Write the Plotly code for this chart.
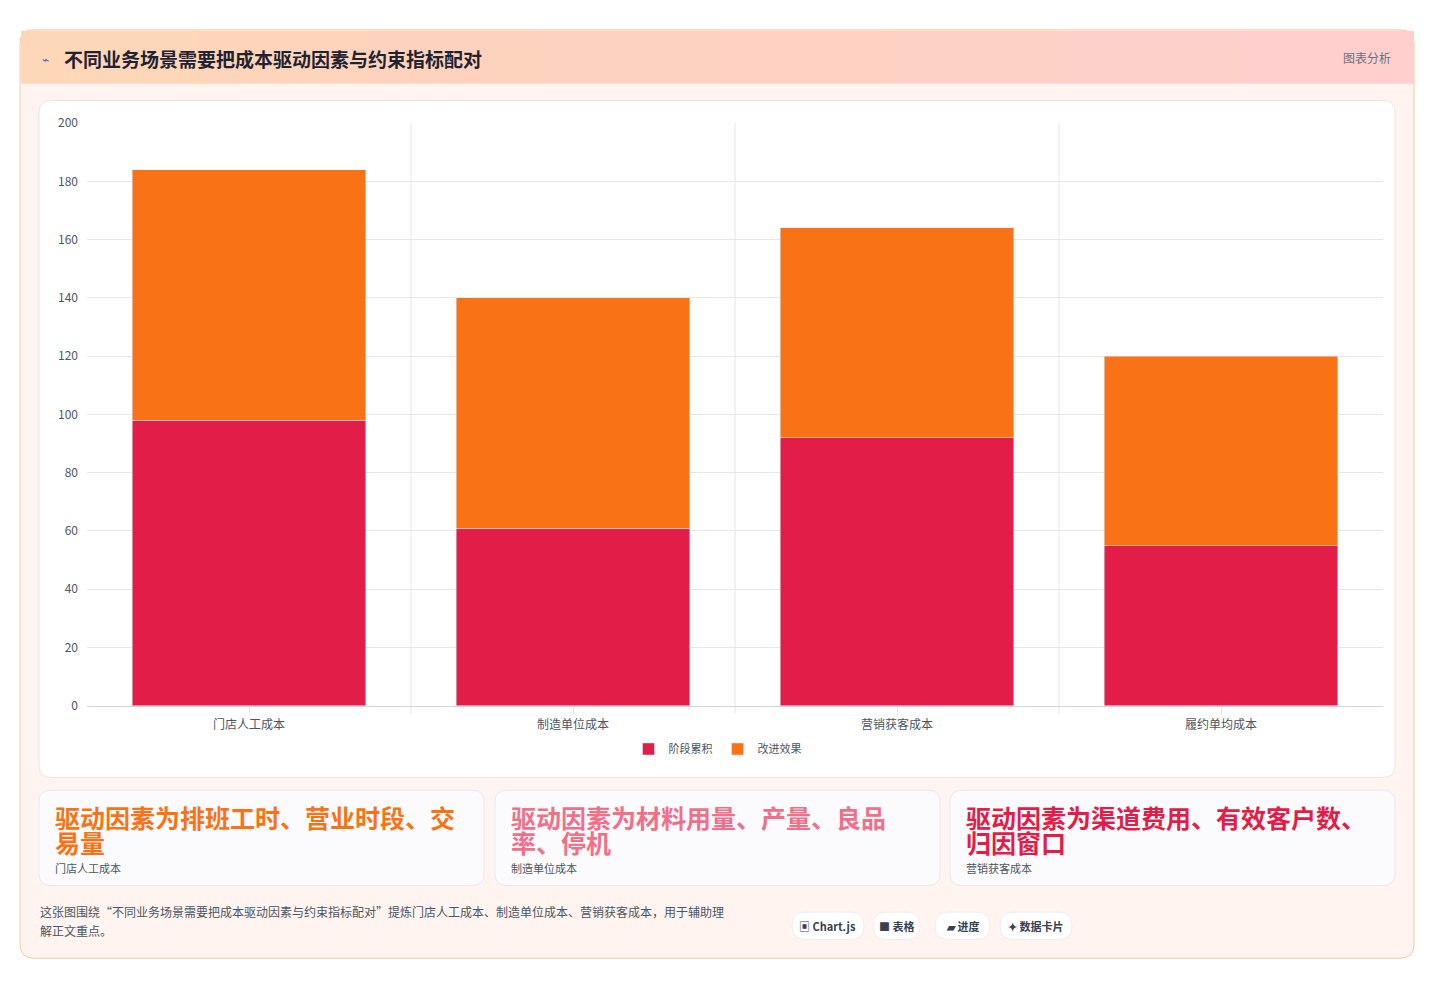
import plotly.graph_objects as go

categories = ["门店人工成本", "制造单位成本", "营销获客成本", "履约单均成本"]
stage_values = [98, 61, 92, 55]
improve_values = [86, 79, 72, 65]
series_names = ["阶段累积", "改进效果"]
y_ticks = [0, 20, 40, 60, 80, 100, 120, 140, 160, 180, 200]

OFF = 8
W, H = 1435 - 2 * OFF, 987 - 2 * OFF
def px(x): return (x - OFF) / W
def py(y): return 1 - (y - OFF) / H

def rrect(x0, y0, x1, y1, r, fill, line="rgba(0,0,0,0)", lw=1):
    X0, X1 = px(x0), px(x1)
    Y0, Y1 = py(y0), py(y1)
    rx, ry = r / W, r / H
    path = (f"M{X0+rx},{Y0} L{X1-rx},{Y0} Q{X1},{Y0} {X1},{Y0-ry} "
            f"L{X1},{Y1+ry} Q{X1},{Y1} {X1-rx},{Y1} L{X0+rx},{Y1} "
            f"Q{X0},{Y1} {X0},{Y1+ry} L{X0},{Y0-ry} Q{X0},{Y0} {X0+rx},{Y0} Z")
    return dict(type="path", path=path, xref="paper", yref="paper",
                fillcolor=fill, line=dict(color=line, width=lw), layer="below")

fig = go.Figure()
fig.add_bar(x=categories, y=stage_values, name=series_names[0], marker_color="#e11d48")
fig.add_bar(x=categories, y=improve_values, name=series_names[1], marker_color="#f97316")

shapes = [rrect(20, 20, 1414, 965, 14, "#fff4ef", "#f8c9a0", 1)]
cols = ["#fed7b8", "#fed5ba", "#fed3bd", "#fed2c0", "#fed1c3", "#fed1c7", "#fed0ca", "#fecfcd"]
n = len(cols)
for i, c in enumerate(cols):
    x0 = 21 + (1392 / n) * i
    x1 = 21 + (1392 / n) * (i + 1) + 1
    shapes.append(dict(type="rect", xref="paper", yref="paper", x0=px(x0), x1=px(x1),
                       y0=py(75), y1=py(21), fillcolor=c, line=dict(width=0), layer="below"))
shapes.append(rrect(39, 92, 1395, 781, 12, "#ffffff", "#f1e4e4", 1))
for x0 in (39, 495, 950):
    shapes.append(rrect(x0, 794, x0 + 445, 891, 12, "#fbfbfe", "#e6e9f2", 1))
chips = [(792, 864, "▣ Chart.js"), (873, 920, "■ 表格"), (935, 990, "▰ 进度"), (1000, 1072, "✦ 数据卡片")]
for x0, x1, _ in chips:
    shapes.append(rrect(x0, 918, x1, 946, 14, "#ffffff", "#eceef4", 1))

ann = [
    dict(x=px(62), y=py(49), text="<b>不同业务场景需要把成本驱动因素与约束指标配对</b>", font=dict(size=19, color="#1f2230")),
    dict(x=px(40), y=py(49), text="⌁", font=dict(size=12, color="#4f5bd5")),
    dict(x=px(1393), y=py(48), text="图表分析", font=dict(size=12, color="#6b7280"), xanchor="right"),
    dict(x=px(38), y=py(917), text="这张图围绕“不同业务场景需要把成本驱动因素与约束指标配对”提炼门店人工成本、制造单位成本、营销获客成本，用于辅助理",
         font=dict(size=12, color="#4b5563")),
    dict(x=px(38), y=py(937), text="解正文重点。", font=dict(size=12, color="#4b5563")),
]
cards = [(53, ["驱动因素为排班工时、营业时段、交", "易量"], "#f97316", "门店人工成本"),
         (509, ["驱动因素为材料用量、产量、良品", "率、停机"], "#f07089", "制造单位成本"),
         (964, ["驱动因素为渠道费用、有效客户数、", "归因窗口"], "#e11d48", "营销获客成本")]
for x, lines, c, sub in cards:
    for k, t in enumerate(lines):
        ann.append(dict(x=px(x), y=py(821 + 26 * k), text=f"<b>{t}</b>", font=dict(size=25, color=c)))
    ann.append(dict(x=px(x), y=py(873), text=sub, font=dict(size=11, color="#4b5563")))
for x0, x1, t in chips:
    ann.append(dict(x=px((x0 + x1) / 2), y=py(932), text=f"<b>{t}</b>", font=dict(size=11, color="#374151"), xanchor="center"))
for a in ann:
    a.setdefault("xanchor", "left")
    a.setdefault("yanchor", "middle")
    a.update(xref="paper", yref="paper", showarrow=False)

fig.update_layout(
    width=W, height=H, barmode="stack", bargap=0.28,
    margin=dict(l=0, r=0, t=0, b=0),
    paper_bgcolor="#ffffff", plot_bgcolor="rgba(0,0,0,0)",
    font=dict(family="Noto Sans CJK SC", color="#4b5563"),
    shapes=shapes, annotations=ann,
    xaxis=dict(domain=[px(87), px(1383)], showgrid=False, showline=True, linecolor="#d1d5db",
               ticks="outside", ticklen=8, tickcolor="#e5e7eb", tickfont=dict(size=12, color="#4b5563")),
    yaxis=dict(domain=[py(708), py(115)], range=[0, 200], tickvals=y_ticks, gridcolor="#e5e7eb",
               zeroline=False, tickfont=dict(size=12, color="#4b5563"), ticklabelstandoff=8),
    legend=dict(orientation="h", x=0.5, xanchor="center", y=py(752), yanchor="middle",
                traceorder="normal", font=dict(size=11, color="#4b5563"), itemwidth=30),
)
for i in range(1, 4):
    fig.add_shape(type="line", xref="x", yref="paper", x0=i - 0.5, x1=i - 0.5,
                  y0=py(716), y1=py(115), line=dict(color="#e5e7eb", width=1), layer="below")
fig.write_html("out.html")
